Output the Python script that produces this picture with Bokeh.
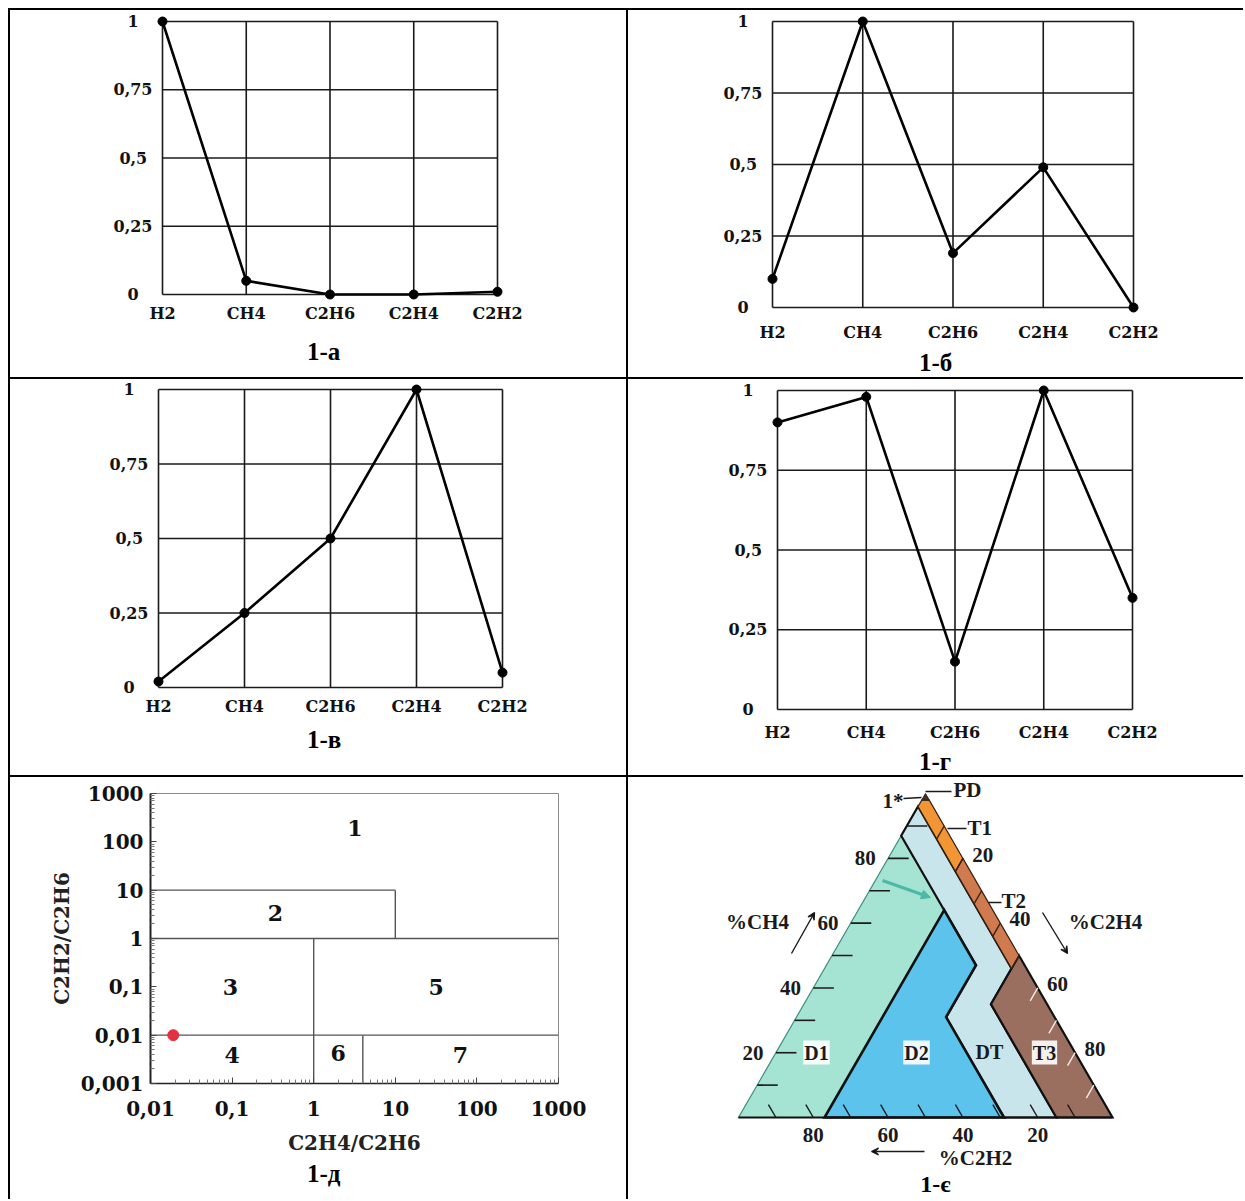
import math
from bokeh.plotting import figure
from bokeh.models import (Range1d, FixedTicker, CustomJSTickFormatter, Label, Arrow,
                          VeeHead, NormalHead, Title)
from bokeh.layouts import row, column
from bokeh.embed import file_html
from bokeh.resources import INLINE
from bokeh.core.properties import value

# ---------------- data ----------------
GASES = ["H2", "CH4", "C2H6", "C2H4", "C2H2"]
Y_TICKS = [0, 0.25, 0.5, 0.75, 1]
VALS_A = [1.0, 0.05, 0.0, 0.0, 0.01]
VALS_B = [0.10, 1.0, 0.19, 0.49, 0.0]
VALS_V = [0.02, 0.25, 0.50, 1.0, 0.05]
VALS_G = [0.90, 0.98, 0.15, 1.0, 0.35]

# panel д (ratio chart)
LOG_X_TICKS = [0.01, 0.1, 1, 10, 100, 1000]
LOG_Y_TICKS = [0.001, 0.01, 0.1, 1, 10, 100, 1000]
BOUND_X0 = [0.01, 10, 0.01, 1, 0.01, 4]
BOUND_Y0 = [10, 1, 1, 0.001, 0.01, 0.001]
BOUND_X1 = [10, 10, 1000, 1, 1000, 4]
BOUND_Y1 = [10, 10, 1, 1, 0.01, 0.01]
ZONE_IDS = ["1", "2", "3", "4", "5", "6", "7"]
ZONE_X = [3.2, 0.34, 0.095, 0.1, 31.6, 2.0, 63]
ZONE_Y = [190, 3.3, 0.1, 0.0038, 0.1, 0.0042, 0.0038]
POINT_X = [0.019]
POINT_Y = [0.01]

# panel є (Duval triangle), vertices as (%CH4, %C2H4, %C2H2)
DUVAL_NAMES = ["D1", "DT", "D2", "T3", "T2", "T1", "PD"]
DUVAL_ZONES = [
    [(0, 0, 100), (0, 23, 77), (64, 23, 13), (87, 0, 13)],
    [(0, 71, 29), (0, 85, 15), (35, 50, 15), (46, 50, 4), (96, 0, 4), (87, 0, 13),
     (47, 40, 13), (31, 40, 29)],
    [(0, 23, 77), (0, 71, 29), (31, 40, 29), (47, 40, 13), (64, 23, 13)],
    [(50, 50, 0), (0, 100, 0), (0, 85, 15), (35, 50, 15)],
    [(80, 20, 0), (50, 50, 0), (46, 50, 4), (76, 20, 4)],
    [(98, 2, 0), (80, 20, 0), (76, 20, 4), (96, 0, 4), (98, 0, 2)],
    [(98, 2, 0), (100, 0, 0), (98, 0, 2)],
]
DUVAL_COLORS = ["#a5e3d3", "#c9e5ec", "#5bc3ec", "#9a6f5f", "#cf7b4f", "#f29535", "#4a2e1e"]
TERN_TICKS = [10, 20, 30, 40, 50, 60, 70, 80, 90]
LEFT_LABELS = [20, 40, 60, 80]
RIGHT_LABELS = [20, 40, 60, 80]
BOTTOM_LABELS = [80, 60, 40, 20]

SERIF = "DejaVu Serif"
TSERIF = "Liberation Serif"
COMMA_FMT = "return String(tick).replace('.', ',')"
# comma decimals, padded on the right so the labels sit roughly centred
CENTRED_FMT = """
const s = String(tick).replace('.', ',');
const n = 4 - s.length;
if (n <= 0) { return s; }
if (n == 1) { return s + '\\u2004'; }
return s + '\\u2007\\u2006';
"""

# layout cells (x0, y0, w, h) in page pixels
LW, RW = 616, 615
H1, H2, H3 = 367, 396, 422


def add_title(p, text, frame_left, center_x, standoff):
    half = 16.5
    p.add_layout(Title(text=text, align="left", offset=center_x - half - frame_left,
                       text_font=TSERIF, text_font_style="bold", text_font_size="25px",
                       text_color="black", standoff=standoff), "below")


def line_panel(vals, cell, box, title, title_x, xlab_standoff, title_standoff):
    cx, cy, cw, ch = cell
    bx0, bx1, by0, by1 = box
    pad = 7
    n = len(GASES) - 1
    sx = (bx1 - bx0) / n
    sy = (by1 - by0)
    fl, fr, ft, fb = bx0 - pad, bx1 + pad, by0 - pad, by1 + pad
    p = figure(width=cw, height=ch, title=None,
               x_range=Range1d(-pad / sx, n + pad / sx),
               y_range=Range1d(-pad / sy, 1 + pad / sy),
               min_border_left=fl - cx, min_border_right=cx + cw - fr,
               min_border_top=ft - cy, min_border_bottom=cy + ch - fb,
               output_backend="svg", toolbar_location=None)
    p.outline_line_color = None
    p.grid.visible = False
    xs = list(range(len(GASES)))
    p.xaxis.ticker = FixedTicker(ticks=xs)
    p.xaxis.formatter = CustomJSTickFormatter(args=dict(labels=GASES),
                                              code="return labels[Math.round(tick)]")
    p.yaxis.ticker = FixedTicker(ticks=Y_TICKS)
    p.yaxis.formatter = CustomJSTickFormatter(code=CENTRED_FMT)
    for ax in (p.xaxis, p.yaxis):
        ax.axis_line_color = None
        ax.major_tick_line_color = None
        ax.minor_tick_line_color = None
        ax.major_tick_in = 0
        ax.major_tick_out = 0
        ax.major_label_text_font = SERIF
        ax.major_label_text_font_style = "bold"
        ax.major_label_text_font_size = "16px"
        ax.major_label_text_color = "#111111"
    p.xaxis.major_label_standoff = xlab_standoff
    p.yaxis.major_label_standoff = 3
    # grid box
    p.segment(x0=xs, y0=[0] * len(xs), x1=xs, y1=[1] * len(xs),
              line_color="#1a1a1a", line_width=1.6)
    p.segment(x0=[0] * len(Y_TICKS), y0=Y_TICKS, x1=[n] * len(Y_TICKS), y1=Y_TICKS,
              line_color="#1a1a1a", line_width=1.6)
    p.line(xs, vals, line_color="black", line_width=2.6)
    p.scatter(xs, vals, size=9, marker="circle", color="black")
    add_title(p, title, fl, title_x, title_standoff)
    return p


pa = line_panel(VALS_A, (10, 10, LW, H1), (162, 497, 21, 294), "1-а", 323, 2, 20)
pb = line_panel(VALS_B, (628, 10, RW, H1), (772, 1133, 21, 307), "1-б", 935, 8, 4)
pv = line_panel(VALS_V, (10, 379, LW, H2), (158, 502, 389, 687), "1-в", 323, 2, 10)
pg = line_panel(VALS_G, (628, 379, RW, H2), (777, 1132, 390, 709), "1-г", 935, 6, 2)

# ---------------- panel д ----------------
DX0, DY0 = 10, 777
pdd = figure(width=LW, height=H3, title=None, x_axis_type="log", y_axis_type="log",
             x_range=Range1d(0.01, 1000), y_range=Range1d(0.001, 1000),
             min_border_left=150 - DX0, min_border_right=DX0 + LW - 558,
             min_border_top=793 - DY0, min_border_bottom=DY0 + H3 - 1083,
             output_backend="svg", toolbar_location=None)
pdd.grid.visible = False
pdd.outline_line_color = "#8a8a8a"
pdd.outline_line_width = 1
minor_x = [m * 10 ** e for e in range(-2, 3) for m in range(2, 10)]
minor_y = [m * 10 ** e for e in range(-3, 3) for m in range(2, 10)]
pdd.xaxis.ticker = FixedTicker(ticks=LOG_X_TICKS, minor_ticks=minor_x)
pdd.yaxis.ticker = FixedTicker(ticks=LOG_Y_TICKS, minor_ticks=minor_y)
for ax in (pdd.xaxis, pdd.yaxis):
    ax.formatter = CustomJSTickFormatter(code=COMMA_FMT)
    ax.axis_line_color = "#222222"
    ax.major_tick_in = 6
    ax.major_tick_out = 0
    ax.minor_tick_in = 4
    ax.minor_tick_out = 0
    ax.major_tick_line_color = "#444444"
    ax.minor_tick_line_color = "#777777"
    ax.major_label_text_font = SERIF
    ax.major_label_text_font_style = "bold"
    ax.major_label_text_font_size = "20px"
    ax.major_label_text_color = "#111111"
    ax.axis_label_text_font = SERIF
    ax.axis_label_text_font_style = "bold"
    ax.axis_label_text_font_size = "20px"
    ax.axis_label_text_color = "#222222"
pdd.yaxis.axis_line_width = 2
pdd.xaxis.axis_line_width = 1.5
pdd.xaxis.major_label_standoff = 17
pdd.yaxis.major_label_standoff = 7
pdd.xaxis.axis_label = "C2H4/C2H6"
pdd.yaxis.axis_label = "C2H2/C2H6"
pdd.xaxis.axis_label_standoff = 12
pdd.yaxis.axis_label_standoff = 4
pdd.segment(x0=BOUND_X0, y0=BOUND_Y0, x1=BOUND_X1, y1=BOUND_Y1,
            line_color="#555555", line_width=1.4)
pdd.text(x=ZONE_X, y=ZONE_Y, text=ZONE_IDS, text_font=value(SERIF),
         text_font_style="bold", text_font_size="22px", text_align="center",
         text_baseline="middle", text_color="#111111")
pdd.scatter(POINT_X, POINT_Y, size=11, marker="circle", color="#e3323f")
add_title(pdd, "1-д", 150, 323, 0)

# ---------------- panel є (Duval triangle) ----------------
K = 3.74          # px per ternary unit
BLX, BLY = 738, 1117
EX0, EY0 = 628, 777
HT = math.sqrt(3) / 2


def tern(ch4, c2h4, c2h2):
    s = ch4 + c2h4 + c2h2
    return (c2h4 + 0.5 * ch4) * 100 / s, ch4 * HT * 100 / s


def P(px, py):
    return (px - BLX) / K, (BLY - py) / K


pe = figure(width=RW, height=H3, title=None, x_axis_type=None, y_axis_type=None,
            x_range=Range1d((EX0 - BLX) / K, (EX0 + RW - BLX) / K),
            y_range=Range1d((BLY - (EY0 + H3)) / K, (BLY - EY0) / K),
            min_border=0, min_border_left=0, min_border_right=0, min_border_top=0,
            min_border_bottom=0, output_backend="svg", toolbar_location=None)
pe.outline_line_color = None

zx, zy = [], []
for zone in DUVAL_ZONES:
    pts = [tern(*v) for v in zone]
    zx.append([q[0] for q in pts])
    zy.append([q[1] for q in pts])
lcol = ["#3f8f80", "#111111", "#111111", "#111111", "#3a2010", "#3a2010", "#222222"]
lwid = [1.2, 2.2, 2.6, 2.2, 1.2, 1.2, 1.0]
for i in range(len(DUVAL_ZONES)):
    pe.patch(zx[i], zy[i], fill_color=DUVAL_COLORS[i], line_color=lcol[i],
             line_width=lwid[i], line_join="miter")
bx = [tern(0, 0, 100)[0], tern(0, 100, 0)[0]]
pe.line(bx, [0, 0], line_color="#111111", line_width=2)

# ticks
L_LEN, B_LEN, R_LEN = 5.5, 4.0, 4.0
lt = [tern(v, 0, 100 - v) for v in TERN_TICKS]
pe.segment(x0=[q[0] for q in lt], y0=[q[1] for q in lt],
           x1=[q[0] + L_LEN for q in lt], y1=[q[1] for q in lt],
           line_color="#1a1a1a", line_width=1.6)
bt = [tern(0, 100 - v, v) for v in TERN_TICKS]
pe.segment(x0=[q[0] for q in bt], y0=[q[1] for q in bt],
           x1=[q[0] - 0.5 * B_LEN for q in bt], y1=[q[1] + HT * B_LEN for q in bt],
           line_color="#1a1a1a", line_width=1.4)
rt = [tern(100 - v, v, 0) for v in TERN_TICKS]
rcol = ["#3a2010" if v <= 50 else "#f4ece8" for v in TERN_TICKS]
pe.segment(x0=[q[0] for q in rt], y0=[q[1] for q in rt],
           x1=[q[0] - 0.5 * R_LEN for q in rt], y1=[q[1] - HT * R_LEN for q in rt],
           line_color=rcol, line_width=1.4)

num_style = dict(text_font=value(TSERIF), text_font_style="bold", text_font_size="21px",
                 text_color="#1a1a1a", text_baseline="middle", text_align="center")
ll = [tern(v, 0, 100 - v) for v in LEFT_LABELS]
pe.text(x=[q[0] - 6.1 for q in ll], y=[q[1] for q in ll],
        text=[str(v) for v in LEFT_LABELS], **num_style)
rl = [tern(100 - v, v, 0) for v in RIGHT_LABELS]
pe.text(x=[q[0] + 5.3 for q in rl], y=[q[1] + 1.0 for q in rl],
        text=[str(v) for v in RIGHT_LABELS], **num_style)
bl = [tern(0, 100 - v, v) for v in BOTTOM_LABELS]
pe.text(x=[q[0] for q in bl], y=[q[1] - 4.6 for q in bl],
        text=[str(v) for v in BOTTOM_LABELS], **num_style)

for txt, (px, py) in [("%CH4", (757, 921)), ("%C2H4", (1105, 921)), ("%C2H2", (975, 1157))]:
    x, y = P(px, py)
    pe.text(x=[x], y=[y], text=[txt], **num_style)
for (p0, p1) in [((791, 953), (814, 912)), ((1042, 912), (1067, 953)), ((924, 1151), (871, 1151))]:
    x0, y0 = P(*p0)
    x1, y1 = P(*p1)
    pe.add_layout(Arrow(end=VeeHead(size=7, line_color="#1a1a1a", line_width=1.3),
                        x_start=x0, y_start=y0, x_end=x1, y_end=y1,
                        line_color="#1a1a1a", line_width=1.4))
x0, y0 = P(882, 880)
x1, y1 = P(930, 897)
pe.add_layout(Arrow(end=NormalHead(size=9, fill_color="#4cb8a6", line_color="#4cb8a6"),
                    x_start=x0, y_start=y0, x_end=x1, y_end=y1,
                    line_color="#4cb8a6", line_width=3))

for (p0, p1) in [((903, 798), (921, 797)), ((925, 791), (951, 791)),
                 ((947, 828), (966, 828)), ((988, 902), (1001, 902))]:
    x0, y0 = P(*p0)
    x1, y1 = P(*p1)
    pe.line([x0, x1], [y0, y1], line_color="#1a1a1a", line_width=1.6)
ann = dict(text_font=value(TSERIF), text_font_style="bold", text_font_size="21px",
           text_color="#1a1a1a", text_baseline="middle", text_align="left")
for txt, (px, py) in [("1*", (882, 800)), ("PD", (953, 789)), ("T1", (967, 827)),
                      ("T2", (1001, 900))]:
    x, y = P(px, py)
    pe.text(x=[x], y=[y], text=[txt], **ann)

for txt, (px, py), bg in [("D1", (816, 1052), True), ("D2", (916, 1052), True),
                          ("DT", (989, 1051), False), ("T3", (1044, 1052), True)]:
    x, y = P(px, py)
    pe.add_layout(Label(x=x, y=y, text=txt, text_align="center", text_baseline="middle",
                        text_font=TSERIF, text_font_style="bold", text_font_size="20px",
                        text_color="#1a1a1a",
                        background_fill_color="white" if bg else None,
                        background_fill_alpha=0.9 if bg else 0.0,
                        padding=1))
tx, ty = P(935, 1183)
pe.text(x=[tx], y=[ty], text=["1-є"], text_align="center", text_baseline="middle",
        text_font=value(TSERIF), text_font_style="bold", text_font_size="24px",
        text_color="black")


def cell(p):
    return column(p, styles={"background-color": "white"})


layout = column(
    row(cell(pa), cell(pb), spacing=2),
    row(cell(pv), cell(pg), spacing=2),
    row(cell(pdd), cell(pe), spacing=2),
    spacing=2,
    styles={"background-color": "black", "padding": "2px 0px 0px 2px",
            "margin": "8px 0px 0px 8px"},
)

open("out.html", "w").write(file_html(layout, INLINE, title="chart"))
